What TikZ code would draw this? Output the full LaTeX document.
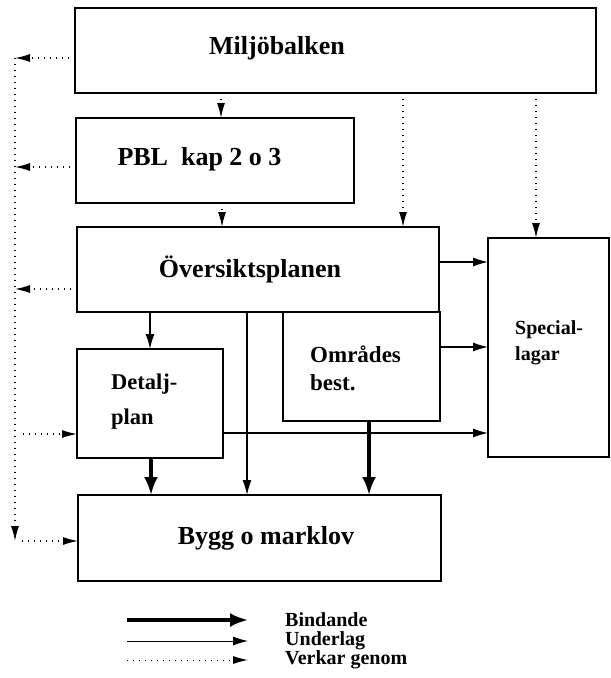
\documentclass[tikz,border=0pt]{standalone}
\usepackage{fontspec}
\setmainfont{Liberation Serif}
\usetikzlibrary{arrows.meta,positioning}

\begin{document}
\begin{tikzpicture}[x=1pt,y=-1pt,
       box/.style={draw,line width=1.3pt,inner sep=0pt,outer sep=0pt},
       big/.style={font=\fontsize{26}{30}\selectfont\bfseries},
       bind/.style={line width=3.4pt,-{Latex[length=18pt,width=14pt]}},
       ulag/.style={line width=1.2pt,-{Latex[length=15pt,width=9pt]}},
       verkar/.style={line width=1.3pt,dash pattern=on 1.3pt off 4.7pt,-{Latex[length=15pt,width=8pt]}}]
       \useasboundingbox (0,0) rectangle (611,678);

       % boxes
       \node[box,minimum width=521pt,minimum height=85pt] (miljo) at (335.5,50.5) {};
       \node[box,minimum width=278pt,minimum height=85pt] (pbl) at (215,160.5) {};
       \node[box,minimum width=362pt,minimum height=85pt] (oversikt) at (258,269.5) {};
       \node[box,minimum width=146pt,minimum height=109pt] (detalj) at (150,403.5) {};
       \node[box,minimum width=157pt,minimum height=109pt] (omrades) at (361.5,366.5) {};
       \node[box,minimum width=121pt,minimum height=219pt] (special) at (548.5,347.5) {};
       \node[box,minimum width=363pt,minimum height=86pt] (bygg) at (259.5,538) {};

       % texts
       \node[big] (miljo-t) at (277,48) {Miljöbalken};
       \node[big] (pbl-t) at (199.5,159) {PBL\ \ kap 2 o 3};
       \node[big] (oversikt-t) at (250,269) {Översiktsplanen};
       \node[big] (bygg-t) at (266,538) {Bygg o marklov};
       \node[anchor=west,align=left,inner sep=0pt,font=\fontsize{22.5}{35}\selectfont\bfseries]
            (detalj-t) at (111,402) {Detalj-\\plan};
       \node[anchor=west,align=left,inner sep=0pt,font=\fontsize{23}{28}\selectfont\bfseries]
            (omrades-t) at (310,368) {Områdes\\best.};
       \node[anchor=west,align=left,inner sep=0pt,font=\fontsize{20}{26}\selectfont\bfseries]
            (special-t) at (515,343) {Special-\\lagar};

       % left bus
       \coordinate (bustop) at (15,58);
       \coordinate (busend) at (15,541);
       \coordinate (busout) at (22,541);
       \coordinate (busdet) at (23,434);

       \draw[verkar] (miljo.west |- bustop) -- (bustop);
       \draw[verkar] (pbl.west |- 0,167) -- (bustop |- 0,167);
       \draw[verkar] (oversikt.west |- 0,289) -- (bustop |- 0,289);
       \draw[verkar] (bustop) -- (busend);
       \draw[verkar] (busout) -- (bygg.west |- busout);
       \draw[verkar] (busdet) -- (detalj.west |- busdet);

       \draw[verkar] (miljo.south -| 221,0) -- (pbl.north -| 221,0);
       \draw[verkar] (miljo.south -| 403,0) -- (oversikt.north -| 403,0);
       \draw[verkar] (miljo.south -| 536,0) -- (special.north -| 536,0);
       \draw[verkar] (pbl.south -| 222,0) -- (oversikt.north -| 222,0);

       \draw[ulag] (oversikt.south -| 150,0) -- (detalj.north -| 150,0);
       \draw[ulag] (oversikt.south -| 247,0) -- (bygg.north -| 247,0);
       \draw[ulag] (oversikt.east |- 0,262) -- (special.west |- 0,262);
       \draw[ulag] (omrades.east |- 0,347) -- (special.west |- 0,347);
       \draw[ulag] (detalj.east |- 0,433) -- (special.west |- 0,433);

       \draw[bind] (detalj.south -| 151,0) -- (bygg.north -| 151,0);
       \draw[bind] (omrades.south -| 369,0) -- (bygg.north -| 369,0);

       % legend
       \coordinate (lg-b) at (127,620);
       \coordinate (lg-u) at (127,641);
       \coordinate (lg-v) at (127,660);
       \draw[bind] (lg-b) -- ++(121,0);
       \draw[ulag,line width=1pt] (lg-u) -- ++(121,0);
       \draw[verkar,line width=1pt] (lg-v) -- ++(121,0);
       \node[anchor=west,inner sep=0pt,font=\fontsize{20}{24}\selectfont\bfseries] (lg-bt) at (285,620) {Bindande};
       \node[anchor=west,inner sep=0pt,font=\fontsize{20}{24}\selectfont\bfseries] (lg-ut) at (285,641) {Underlag};
       \node[anchor=west,inner sep=0pt,font=\fontsize{20}{24}\selectfont\bfseries] (lg-vt) at (285,660) {Verkar genom};
     \end{tikzpicture}
\end{document}
